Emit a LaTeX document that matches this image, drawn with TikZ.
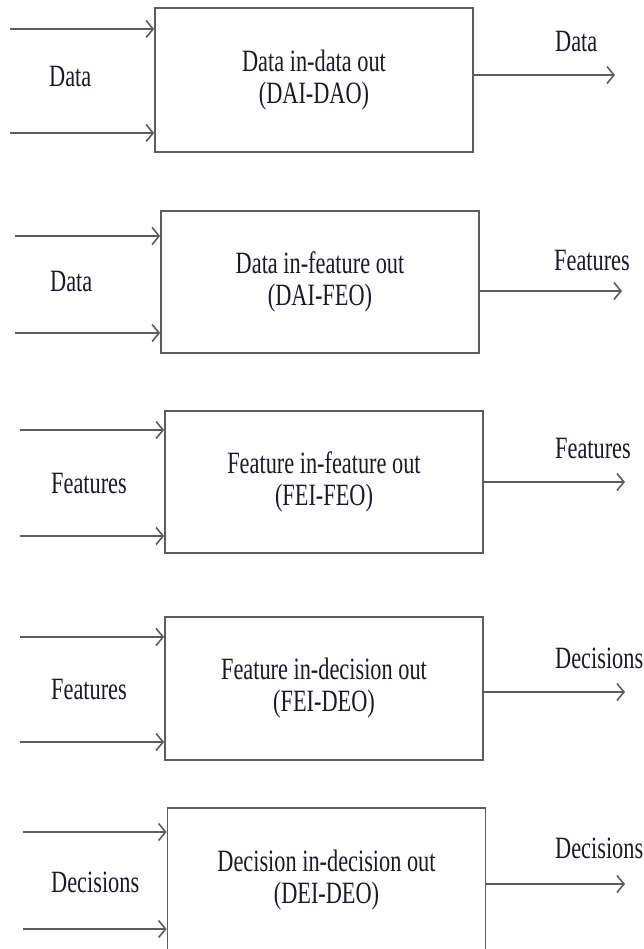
\documentclass[tikz,border=0pt]{standalone}
\usepackage{fontspec}
\setmainfont{Liberation Serif}[FakeStretch=0.72]
\usetikzlibrary{arrows.meta}
\definecolor{linegray}{gray}{0.36}
\definecolor{inkdark}{rgb}{0.10,0.10,0.16}
\begin{document}
\begin{tikzpicture}[x=1pt,y=-1pt,
  every node/.style={text=inkdark, font=\fontsize{31}{32}\selectfont, inner sep=0pt},
  stagebox/.style={draw=linegray, line width=1.7pt, minimum width=318pt, align=center},
  arr/.style={draw=linegray, line width=1.7pt,
    -{Straight Barb[length=7pt,width=17pt,line width=1.6pt]}},
  lbl/.style={anchor=base west}
]
\clip (0,0) rectangle (643,949);
\fill[white] (0,0) rectangle (643,949);

% processing stages
\node[stagebox, minimum height=144pt] (b1) at (314,80)    {Data in-data out\\(DAI-DAO)};
\node[stagebox, minimum height=142pt] (b2) at (320,282)   {Data in-feature out\\(DAI-FEO)};
\node[stagebox, minimum height=142pt] (b3) at (324,482)   {Feature in-feature out\\(FEI-FEO)};
\node[stagebox, minimum height=143pt] (b4) at (324,688.5) {Feature in-decision out\\(FEI-DEO)};
\node[stagebox, minimum height=145pt] (b5) at (326.5,880.5) {Decision in-decision out\\(DEI-DEO)};

% input labels
\node[lbl] (l1) at (49,87)  {Data};
\node[lbl] (l2) at (50,291) {Data};
\node[lbl] (l3) at (51,493) {Features};
\node[lbl] (l4) at (51,699) {Features};
\node[lbl] (l5) at (51,892) {Decisions};

% output labels
\node[lbl] (r1) at (555,52)  {Data};
\node[lbl] (r2) at (554,271) {Features};
\node[lbl] (r3) at (555,458) {Features};
\node[lbl] (r4) at (555,668) {Decisions};
\node[lbl] (r5) at (555,858) {Decisions};

% input arrow tails
\coordinate (i1a) at (10,29);  \coordinate (i1b) at (10,133);
\coordinate (i2a) at (15,236); \coordinate (i2b) at (15,333);
\coordinate (i3a) at (20,430); \coordinate (i3b) at (20,536);
\coordinate (i4a) at (20,637); \coordinate (i4b) at (20,742);
\coordinate (i5a) at (23,832); \coordinate (i5b) at (23,929);

% output arrow heads
\coordinate (o1) at (615,75);
\coordinate (o2) at (622,291);
\coordinate (o3) at (625,482);
\coordinate (o4) at (625,692);
\coordinate (o5) at (625,884);

% inputs
\draw[arr] (i1a) -- (i1a -| b1.west);
\draw[arr] (i1b) -- (i1b -| b1.west);
\draw[arr] (i2a) -- (i2a -| b2.west);
\draw[arr] (i2b) -- (i2b -| b2.west);
\draw[arr] (i3a) -- (i3a -| b3.west);
\draw[arr] (i3b) -- (i3b -| b3.west);
\draw[arr] (i4a) -- (i4a -| b4.west);
\draw[arr] (i4b) -- (i4b -| b4.west);
\draw[arr] (i5a) -- (i5a -| b5.west);
\draw[arr] (i5b) -- (i5b -| b5.west);

% outputs
\draw[arr] (o1 -| b1.east) -- (o1);
\draw[arr] (o2 -| b2.east) -- (o2);
\draw[arr] (o3 -| b3.east) -- (o3);
\draw[arr] (o4 -| b4.east) -- (o4);
\draw[arr] (o5 -| b5.east) -- (o5);
\end{tikzpicture}
\end{document}
